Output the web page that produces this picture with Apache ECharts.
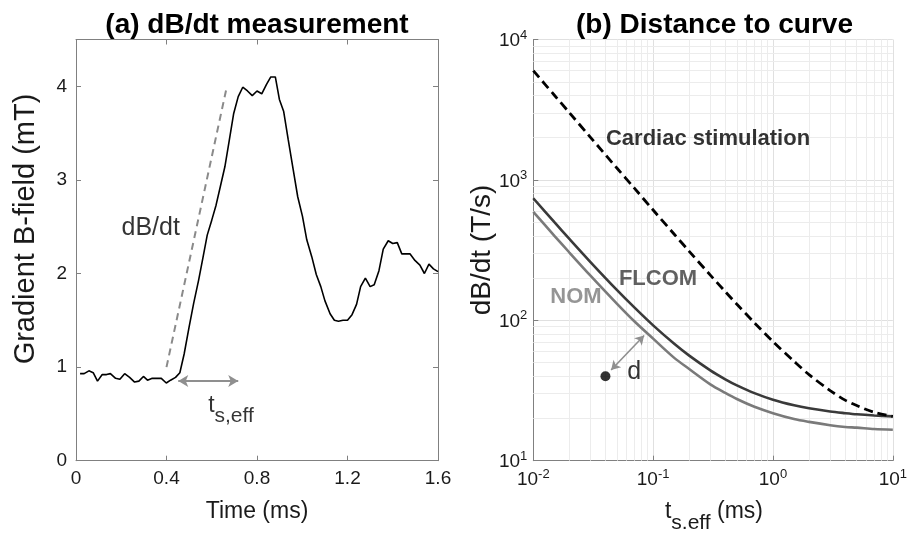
<!DOCTYPE html>
<html>
<head>
<meta charset="utf-8">
<script src="https://cdn.jsdelivr.net/npm/echarts@6/dist/echarts.min.js"></script>
<style>
html, body { margin: 0; padding: 0; background: #fff; }
#main { width: 910px; height: 533px; }
</style>
</head>
<body>
<div id="main"></div>
<script>
var timeMs = [0.018, 0.036, 0.057, 0.076, 0.095, 0.116, 0.135, 0.152, 0.175, 0.194,
    0.215, 0.237, 0.259, 0.278, 0.298, 0.316, 0.337, 0.357, 0.377, 0.399,
    0.418, 0.44, 0.459, 0.478, 0.50, 0.52, 0.542, 0.562, 0.58, 0.60,
    0.619, 0.638, 0.658, 0.678, 0.697, 0.717, 0.737, 0.758, 0.779, 0.80,
    0.821, 0.842, 0.861, 0.881, 0.899, 0.918, 0.938, 0.96, 0.98, 1.001,
    1.02, 1.042, 1.062, 1.082, 1.10, 1.123, 1.142, 1.16, 1.18, 1.20,
    1.22, 1.24, 1.258, 1.279, 1.30, 1.318, 1.339, 1.358, 1.38, 1.40,
    1.42, 1.44, 1.458, 1.476, 1.498, 1.52, 1.54, 1.56, 1.58, 1.60];
var fieldMT = [0.93, 0.93, 0.96, 0.94, 0.85, 0.92, 0.92, 0.93, 0.88, 0.87,
    0.93, 0.89, 0.84, 0.85, 0.90, 0.86, 0.88, 0.88, 0.88, 0.83,
    0.86, 0.89, 0.94, 1.14, 1.43, 1.68, 1.93, 2.18, 2.41, 2.57,
    2.73, 2.93, 3.14, 3.43, 3.71, 3.89, 3.99, 3.95, 3.90, 3.95,
    3.92, 4.02, 4.10, 4.10, 3.86, 3.73, 3.43, 3.11, 2.82, 2.61,
    2.36, 2.18, 1.99, 1.86, 1.71, 1.57, 1.50, 1.49, 1.50, 1.50,
    1.56, 1.67, 1.86, 1.95, 1.86, 1.88, 2.03, 2.26, 2.35, 2.32,
    2.33, 2.21, 2.21, 2.21, 2.14, 2.09, 2.00, 2.10, 2.05, 2.02];
var slopeLine = [[0.40, 1.0], [0.667, 4.0]];
var tsArrow = [[0.452, 0.852], [0.717, 0.852]];
var xTicksA = ['0', '0.4', '0.8', '1.2', '1.6'];

// (b) limit curves vs effective stimulus duration
var tEff = [0.01, 0.015, 0.02, 0.03, 0.05, 0.07, 0.1, 0.15, 0.2, 0.3, 0.4, 0.5, 0.7, 1, 1.5, 2, 3, 4, 5, 7, 10];
var nomVals = [592, 400, 304, 208, 131, 98, 74, 54, 45, 35, 30.4, 27.5, 24.2, 21.8, 19.8, 18.9, 17.9, 17.4, 17.2, 16.8, 16.6];
var flcomVals = [740, 500, 380, 260, 164, 123, 92, 68, 56, 44, 38, 34.4, 30.3, 27.2, 24.8, 23.6, 22.4, 21.8, 21.4, 21.0, 20.7];
var cardiacVals = [6000, 4010, 3010, 2010, 1210, 870, 610, 410, 310, 210, 160, 130, 96, 70.5, 51, 41, 31.6, 27, 24.7, 22.1, 20.7];
var measPoint = [0.04, 40];
var dArrow = [[0.0446, 44.3], [0.0841, 78]];

var FONT = '"Liberation Sans", Arial, Helvetica, sans-serif';
var TXT = '#1a1a1a';
var AX = '#808080';

function zip(a, b) {
    return a.map(function(v, i) { return [v, b[i]]; });
}

// minor grid positions for the log panel (2..9 in each decade)
function minorVals(lo, hi) {
    var res = [];
    for (var d = lo; d < hi; d *= 10) {
        for (var k = 2; k <= 9; k++) res.push(+(d * k).toPrecision(3));
    }
    return res;
}
var minorLines = minorVals(0.01, 10).map(function(v) { return {xAxis: v}; })
    .concat(minorVals(10, 10000).map(function(v) { return {yAxis: v}; }));

function powLabel(v) {
    return '{b|10}{s|' + Math.round(Math.log10(v)) + '}';
}
var powRich = {
    b: {fontSize: 19, fontFamily: FONT, color: TXT, verticalAlign: 'bottom'},
    s: {fontSize: 13, fontFamily: FONT, color: TXT, verticalAlign: 'bottom', padding: [0, 0, 9, 0]}
};

var boxAxis = {
    axisLine: {show: true, onZero: false, lineStyle: {color: AX, width: 1}},
    axisTick: {show: true, inside: true, length: 5, lineStyle: {color: AX}},
    axisLabel: {show: false},
    splitLine: {show: false}
};

var chart = echarts.init(document.getElementById('main'));
var option = {
    animation: false,
    backgroundColor: '#fff',
    textStyle: {fontFamily: FONT},
    grid: [
        {left: 76, top: 39.5, width: 362, height: 421.2},
        {left: 533.3, top: 39.5, width: 362.4, height: 421.2}
    ],
    xAxis: [
        {
            type: 'value', gridIndex: 0, min: 0, max: 1.6, interval: 0.4,
            axisLine: {onZero: false, lineStyle: {color: AX}},
            axisTick: {inside: true, length: 5, lineStyle: {color: AX}},
            axisLabel: {
                color: TXT, fontSize: 19, margin: 9, fontFamily: FONT,
                formatter: function(v) { return xTicksA[Math.round(v / 0.4)]; }
            },
            splitLine: {show: false}
        },
        Object.assign({type: 'value', gridIndex: 0, min: 0, max: 1.6, interval: 0.4, position: 'top'}, boxAxis),
        {
            type: 'log', logBase: 10, gridIndex: 1, min: 0.01, max: 10,
            axisLine: {onZero: false, lineStyle: {color: AX}},
            axisTick: {inside: true, length: 5, lineStyle: {color: AX}},
            axisLabel: {margin: 7, formatter: powLabel, rich: powRich},
            splitLine: {show: true, lineStyle: {color: '#e0e0e0', width: 1}}
        }
    ],
    yAxis: [
        {
            type: 'value', gridIndex: 0, min: 0, max: 4.5, interval: 1,
            axisLine: {show: true, onZero: false, lineStyle: {color: AX}},
            axisTick: {show: true, inside: true, length: 5, lineStyle: {color: AX}},
            axisLabel: {color: TXT, fontSize: 19, margin: 9, fontFamily: FONT, showMaxLabel: false},
            splitLine: {show: false}
        },
        Object.assign({type: 'value', gridIndex: 0, min: 0, max: 4.5, interval: 1, position: 'right'}, boxAxis),
        {
            type: 'log', logBase: 10, gridIndex: 1, min: 10, max: 10000,
            axisLine: {show: true, onZero: false, lineStyle: {color: AX}},
            axisTick: {show: true, inside: true, length: 5, lineStyle: {color: AX}},
            axisLabel: {margin: 6, formatter: powLabel, rich: powRich},
            splitLine: {show: true, lineStyle: {color: '#e0e0e0', width: 1}}
        }
    ],
    graphic: [
        {type: 'text', x: 257, y: 25, style: {text: '(a) dB/dt measurement', font: 'bold 28px ' + FONT, fill: '#000', align: 'center', verticalAlign: 'middle', textAlign: 'center', textVerticalAlign: 'middle'}},
        {type: 'text', x: 714.5, y: 25, style: {text: '(b) Distance to curve', font: 'bold 28px ' + FONT, fill: '#000', align: 'center', verticalAlign: 'middle', textAlign: 'center', textVerticalAlign: 'middle'}},
        {type: 'text', x: 257, y: 512, style: {text: 'Time (ms)', font: '23px ' + FONT, fill: TXT, align: 'center', verticalAlign: 'middle', textAlign: 'center', textVerticalAlign: 'middle'}},
        {type: 'text', x: 26, y: 229, rotation: Math.PI / 2, style: {text: 'Gradient B-field (mT)', font: '29px ' + FONT, fill: TXT, align: 'center', verticalAlign: 'middle', textAlign: 'center', textVerticalAlign: 'middle'}},
        {type: 'text', x: 482, y: 250, rotation: Math.PI / 2, style: {text: 'dB/dt (T/s)', font: '28px ' + FONT, fill: TXT, align: 'center', verticalAlign: 'middle', textAlign: 'center', textVerticalAlign: 'middle'}},
        {type: 'text', x: 714, y: 517, style: {
            text: '{t|t}{s|s.eff}{t| (ms)}', align: 'center', verticalAlign: 'middle', textAlign: 'center', textVerticalAlign: 'middle',
            rich: {
                t: {fontSize: 23, fontFamily: FONT, fill: TXT, color: TXT, verticalAlign: 'top'},
                s: {fontSize: 21, fontFamily: FONT, fill: TXT, color: TXT, verticalAlign: 'top', padding: [12, 0, 0, 0]}
            }
        }}
    ],
    series: [
        {
            type: 'line', xAxisIndex: 0, yAxisIndex: 0, data: zip(timeMs, fieldMT),
            showSymbol: false, lineStyle: {color: '#000', width: 1.6}, z: 4
        },
        {
            type: 'line', xAxisIndex: 0, yAxisIndex: 0, data: slopeLine,
            showSymbol: false, lineStyle: {color: '#8a8a8a', width: 2, type: [7, 5]}, z: 3,
            markLine: {
                silent: true, symbol: ['arrow', 'arrow'], symbolSize: [9, 10],
                label: {show: false},
                lineStyle: {color: '#8f8f8f', width: 1.8, type: 'solid'},
                data: [[{coord: tsArrow[0]}, {coord: tsArrow[1]}]]
            }
        },
        {
            type: 'scatter', xAxisIndex: 0, yAxisIndex: 0, symbolSize: 1,
            itemStyle: {color: 'transparent'}, silent: true,
            data: [
                {value: [0.33, 2.49], label: {show: true, position: 'inside', formatter: 'dB/dt', fontSize: 25, color: '#000', fontFamily: FONT}},
                {value: [0.685, 0.537], label: {
                    show: true, position: 'inside', formatter: '{t|t}{s|s,eff}',
                    rich: {
                        t: {fontSize: 23, color: '#000', fontFamily: FONT, verticalAlign: 'top'},
                        s: {fontSize: 21, color: '#000', fontFamily: FONT, verticalAlign: 'top', padding: [12, 0, 0, 0]}
                    }
                }}
            ]
        },
        {
            // carrier for the minor grid of panel (b)
            type: 'line', xAxisIndex: 2, yAxisIndex: 2, data: [measPoint],
            showSymbol: false, lineStyle: {opacity: 0}, z: 1, silent: true,
            markLine: {
                z: 1, silent: true, symbol: 'none', label: {show: false},
                lineStyle: {color: '#ececec', width: 1, type: 'solid'},
                data: minorLines
            }
        },
        {
            name: 'NOM', type: 'line', xAxisIndex: 2, yAxisIndex: 2, data: zip(tEff, nomVals),
            smooth: 0.3, showSymbol: false, lineStyle: {color: '#7a7a7a', width: 2.6}, z: 3
        },
        {
            name: 'FLCOM', type: 'line', xAxisIndex: 2, yAxisIndex: 2, data: zip(tEff, flcomVals),
            smooth: 0.3, showSymbol: false, lineStyle: {color: '#3a3a3a', width: 2.6}, z: 3
        },
        {
            name: 'Cardiac stimulation', type: 'line', xAxisIndex: 2, yAxisIndex: 2, data: zip(tEff, cardiacVals),
            smooth: 0.3, showSymbol: false, lineStyle: {color: '#000', width: 2.8, type: [9, 5]}, z: 3
        },
        {
            type: 'scatter', xAxisIndex: 2, yAxisIndex: 2, data: [measPoint],
            symbolSize: 10, itemStyle: {color: '#000'}, z: 5,
            markLine: {
                silent: true, symbol: ['arrow', 'arrow'], symbolSize: [8, 9],
                label: {show: false},
                lineStyle: {color: '#8f8f8f', width: 1.6, type: 'solid'},
                data: [[{coord: dArrow[0]}, {coord: dArrow[1]}]]
            }
        },
        {
            type: 'scatter', xAxisIndex: 2, yAxisIndex: 2, symbolSize: 1,
            itemStyle: {color: 'transparent'}, silent: true, z: 6,
            data: [
                {value: [0.04, 1960], label: {show: true, position: 'right', distance: 0, formatter: 'Cardiac stimulation', fontSize: 22, fontWeight: 'bold', color: '#000', fontFamily: FONT}},
                {value: [0.0513, 198], label: {show: true, position: 'right', distance: 0, formatter: 'FLCOM', fontSize: 22, fontWeight: 'bold', color: '#3a3a3a', fontFamily: FONT}},
                {value: [0.01375, 146], label: {show: true, position: 'right', distance: 0, formatter: 'NOM', fontSize: 22, fontWeight: 'bold', color: '#7a7a7a', fontFamily: FONT}},
                {value: [0.0695, 42.6], label: {show: true, position: 'inside', formatter: 'd', fontSize: 25, color: '#000', fontFamily: FONT}}
            ]
        }
    ]
};
chart.setOption(option);
</script>
</body>
</html>
